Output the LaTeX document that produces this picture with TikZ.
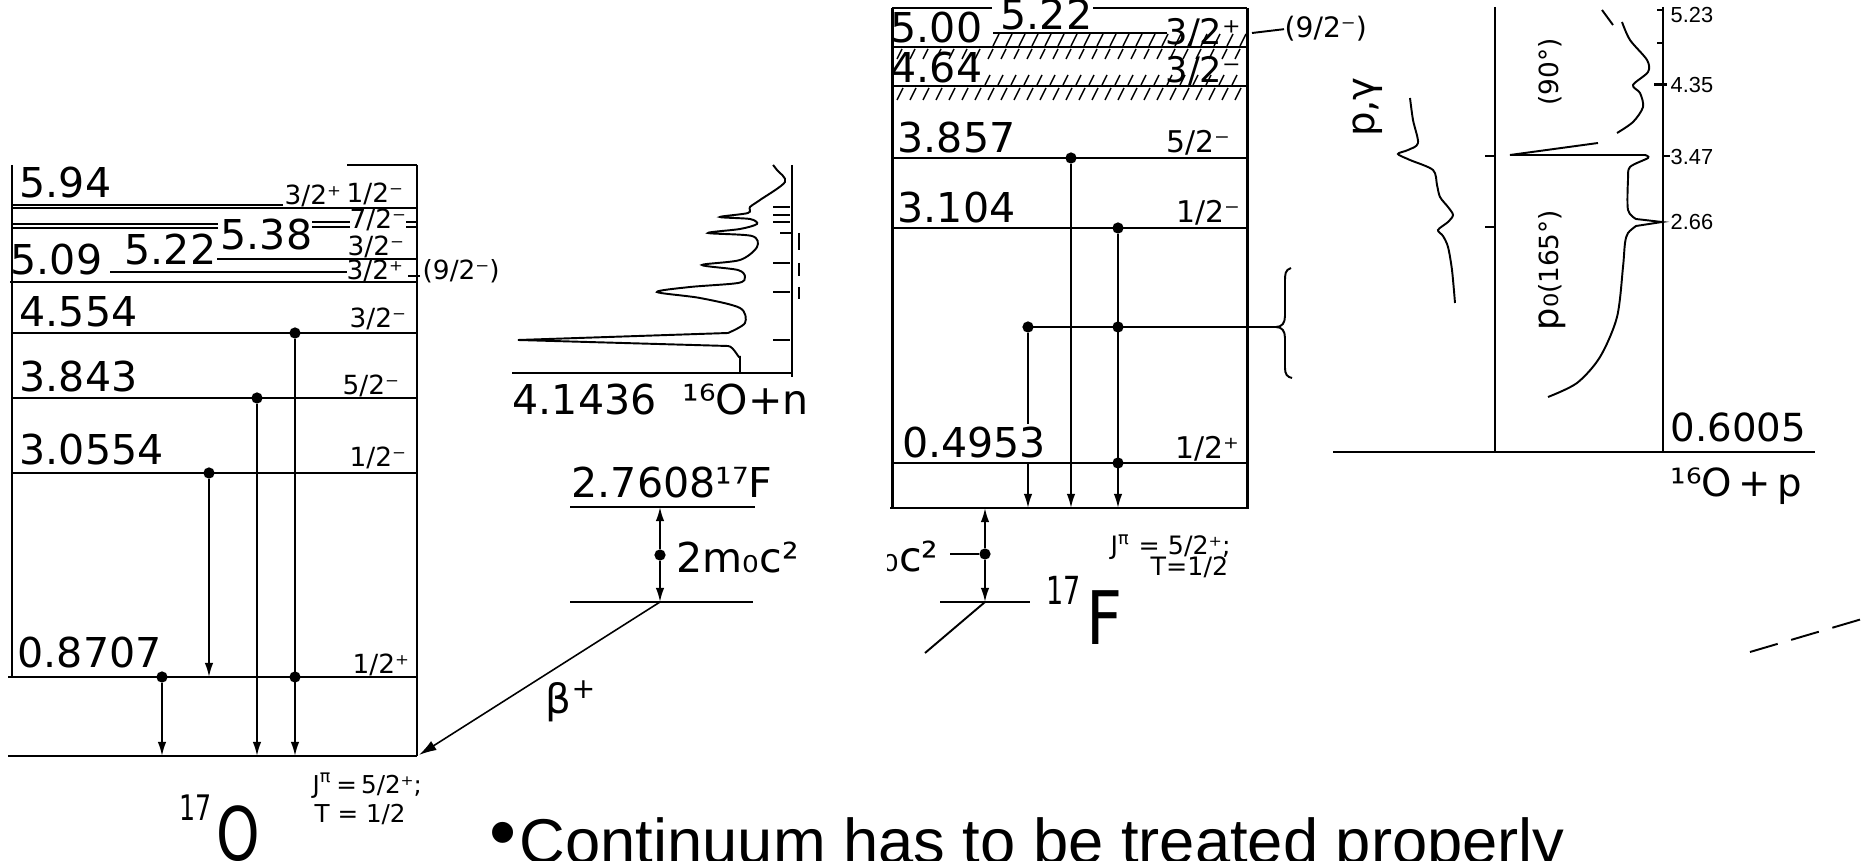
\documentclass[tikz,border=0pt]{standalone}
\usepackage{fontspec}
\setmainfont{DejaVu Sans}
\newfontfamily\arialfont{Liberation Sans}
\usetikzlibrary{arrows.meta}

\begin{document}
\begin{tikzpicture}[x=0.01cm, y=-0.01cm,
  box/.style={line width=0.85pt},
  lvl/.style={line width=0.55pt},
  gam/.style={line width=0.5pt, -{Latex[length=4pt,width=2.4pt]}},
  hatch/.style={line width=0.4pt},
  dot/.style={circle, fill, inner sep=0pt, minimum size=3.2pt},
  elab/.style={anchor=base west, inner sep=0pt, font=\fontsize{11.7}{12}\selectfont},
  slab/.style={anchor=base west, inner sep=0pt, font=\fontsize{7.5}{8}\selectfont},
  mlab/.style={anchor=base west, inner sep=0pt, font=\fontsize{8.5}{9}\selectfont},
  blab/.style={anchor=base west, inner sep=0pt, font=\fontsize{10}{11}\selectfont},
  tlab/.style={anchor=west, inner sep=0pt, font=\arialfont\fontsize{6.2}{7}\selectfont},
  rlab/.style={rotate=90, inner sep=0pt},
]
\useasboundingbox (0,0) rectangle (1866,861);

% 17O level scheme (left box): frame and levels.
\draw[box] (12,165) -- (12,677);
\draw[box] (417,165) -- (417,756);
\draw[lvl] (347,165) -- (417,165);
\draw[lvl] (12,205) -- (283,205);
\draw[lvl] (12,208) -- (417,208);
\draw[lvl] (12,224) -- (218,224) (12,228) -- (218,228);
\draw[lvl] (312,222) -- (417,222) (312,227) -- (417,227);
\draw[lvl] (217,259) -- (417,259);
\draw[lvl] (110,272) -- (347,272);
\draw[box] (10,282) -- (417,282);
\draw[box] (408,276) -- (420,276);
\draw[lvl] (12,333) -- (417,333);
\draw[lvl] (12,398) -- (417,398);
\draw[lvl] (12,473) -- (417,473);
\draw[lvl] (8,677) -- (417,677);
\draw[box] (8,756) -- (417,756);

\node[elab] (o594) at (19,198) {5.94};
\node[elab] (o509) at (10,275) {5.09};
\node[elab] (o522) at (124,265) {5.22};
\node[elab] (o538) at (220,250) {5.38};
\node[elab] (o4554) at (19,327) {4.554};
\node[elab] (o3843) at (19,392) {3.843};
\node[elab] (o30554) at (19,465) {3.0554};
\node[elab] (o08707) at (17,668) {0.8707};

\node[slab] (oj594a) at (284,205) {3/2⁺};
\node[slab] (oj594b) at (346,203) {1/2⁻};
\node[slab, fill=white] (oj538) at (349,229) {7/2⁻};
\node[slab] (oj522) at (347,256) {3/2⁻};
\node[slab] (oj509) at (346,280) {3/2⁺};
\node[slab] (oj92) at (422,280) {(9/2⁻)};
\node[slab] (oj4554) at (349,328) {3/2⁻};
\node[slab] (oj3843) at (342,395) {5/2⁻};
\node[slab] (oj30554) at (349,467) {1/2⁻};
\node[slab] (oj08707) at (352,673) {1/2⁺};

% 17O gamma transitions.
\node[dot] (od4554) at (295,333) {};
\node[dot] (od3843) at (257,398) {};
\node[dot] (od30554) at (209,473) {};
\node[dot] (od08707) at (162,677) {};
\node[dot] (od08707b) at (295,677) {};
\coordinate (og4554) at (295,756);
\coordinate (og3843) at (257,756);
\coordinate (og30554) at (209,677);
\coordinate (og08707) at (162,756);
\draw[gam] (od4554) -- (og4554);
\draw[gam] (od3843) -- (og3843);
\draw[gam] (od30554) -- (og30554);
\draw[gam] (od08707) -- (og08707);

\node[slab, font=\fontsize{7}{8}\selectfont] (ojgs) at (312,793) {J\textsuperscript{π}\,=\,5/2⁺;};
\node[slab, font=\fontsize{7}{8}\selectfont] (otgs) at (314,822) {T = 1/2};
\node[anchor=base west, inner sep=0pt, font=\fontsize{10}{11}\selectfont] (oa) at (179,820) {\scalebox{0.72}[1]{17}};
\node[anchor=base west, inner sep=0pt, font=\fontsize{21}{22}\selectfont] (oname) at (216,860) {\scalebox{0.75}[1]{O}};

% 16O+n threshold with the neutron spectrum.
\draw[lvl] (512,373) -- (792,373);
\draw[lvl] (792,165) -- (792,377);
\foreach \ty in {207,215,222,263,292,340} \draw[lvl] (773,\ty) -- (790,\ty);
\draw[lvl] (780,233) -- (792,233);
\foreach \ty/\tl in {233/17,263/13,287/12} \draw[lvl] (799,\ty) -- ++(0,\tl);
\draw[lvl] (740,373) -- (740,356) to[out=-90,in=0] (728,346) -- (518,340) -- (728,333)
  -- plot[smooth, tension=0.5] coordinates {(728,333) (745,323) (740,308) (700,298) (657,292)
  (690,287) (738,283) (745,277) (738,270) (702,265) (740,260) (757,247) (752,236) (708,233)
  (740,229) (757,224) (750,219) (720,217) (748,213) (750,207) (760,200) (785,182) (777,170)
  (773,165)};
\node[elab] (n41436) at (512,415) {4.1436};
\node[elab] (nthr) at (682,415) {¹⁶O+n};

% 17F ground state above 17O, pair energy and beta+ decay.
\draw[lvl] (570,507) -- (755,507);
\draw[lvl] (570,602) -- (753,602);
\node[elab] (f27608) at (571,498) {2.7608¹⁷F};
\node[dot] (pdot) at (660,555) {};
\coordinate (ptop) at (660,507);
\coordinate (pbot) at (660,602);
\draw[gam] (pdot) -- (ptop);
\draw[gam] (pdot) -- (pbot);
\node[elab] (pair) at (676,573) {2m₀c²};
\coordinate (ogs) at (419,755);
\draw[line width=0.45pt, -{Latex[length=5pt,width=3pt]}] (pbot) -- (ogs);
\node[anchor=base west, inner sep=0pt, font=\fontsize{11.5}{12}\selectfont] (bplus) at (545,714) {β\textsuperscript{+}};

% 17F level scheme (middle box).
\draw[box] (892,8) -- (892,508);
\draw[box] (1247,8) -- (1247,508);
\draw[box] (890,508) -- (1249,508);
\draw[lvl] (892,8) -- (992,8) (1093,8) -- (1247,8);
\draw[lvl] (993,33) -- (1167,33);
\draw[lvl] (892,47) -- (1247,47);
\draw[lvl] (892,86) -- (1247,86);
\foreach \hx in {993,1006,...,1240} \draw[hatch] (\hx,46) -- ++(6,-12);
\foreach \hx in {897,910,...,1240} \draw[hatch] (\hx,59) -- ++(5,-10);
\foreach \hx in {985,998,...,1240} \draw[hatch] (\hx,85) -- ++(5,-10);
\foreach \hx in {897,910,...,1240} \draw[hatch] (\hx,100) -- ++(6,-12);
\draw[lvl] (892,158) -- (1247,158);
\draw[lvl] (892,228) -- (1247,228);
\draw[lvl] (1028,327) -- (1277,327);
\draw[lvl] (892,463) -- (1247,463);
\draw[lvl] (1291,268) .. controls (1285,270) and (1285,274) .. (1285,282) -- (1285,316)
  .. controls (1285,323) and (1282,327) .. (1276,327)
  .. controls (1282,327) and (1285,331) .. (1285,338) -- (1285,368)
  .. controls (1285,374) and (1287,377) .. (1292,378);

% 17F gamma transitions.
\node[dot] (fd3857) at (1071,158) {};
\node[dot] (fd3104) at (1118,228) {};
\node[dot] (fdx) at (1028,327) {};
\node[dot] (fdxb) at (1118,327) {};
\node[dot] (fd04953) at (1118,463) {};
\coordinate (fg3857) at (1071,508);
\coordinate (fg3104) at (1118,508);
\coordinate (fgx) at (1028,508);
\draw[gam] (fd3857) -- (fg3857);
\draw[gam] (fd3104) -- (fg3104);
\draw[gam] (fdx) -- (fgx);

\node[elab] (f500) at (890,43) {5.00};
\node[elab] (f522) at (1000,30) {5.22};
\node[elab] (f464) at (890,83) {4.64};
\node[elab] (f3857) at (897,153) {3.857};
\node[elab] (f3104) at (897,223) {3.104};
\node[elab, fill=white, inner sep=1pt] (f04953) at (898,458) {0.4953};
\node[blab] (fj500) at (1165,45) {3/2⁺};
\node[blab] (fj464) at (1165,83) {3/2⁻};
\node[mlab] (fj3857) at (1166,153) {5/2⁻};
\node[mlab] (fj3104) at (1176,223) {1/2⁻};
\node[mlab] (fj04953) at (1175,459) {1/2⁺};
\node[mlab, font=\fontsize{8}{9}\selectfont] (fj92) at (1284,38) {(9/2⁻)};
\draw[lvl] (1252,33) -- (fj92.west);

% Below the 17F box: pair energy, 17F ground state.
\coordinate (fgs) at (985,508);
\node[dot] (fpdot) at (985,554) {};
\coordinate (fpbot) at (985,602);
\coordinate (fptick) at (950,554);
\draw[gam] (fpdot) -- (fgs);
\draw[gam] (fpdot) -- (fpbot);
\draw[lvl] (fptick) -- (fpdot);
\draw[lvl] (940,602) -- (1030,602);
\coordinate (fbeta) at (925,653);
\draw[lvl] (fpbot) -- (fbeta);
\begin{scope}
  \clip (887,520) rectangle (948,600);
  \node[elab, anchor=base east] (fpair) at (939,571) {2m₀c²};
\end{scope}
\node[slab, font=\fontsize{7.2}{8}\selectfont] (fjgs) at (1110,555) {J\textsuperscript{π} = 5/2⁺;};
\node[slab, font=\fontsize{7.2}{8}\selectfont] (ftgs) at (1150,576) {T=1/2};
\node[anchor=base west, inner sep=0pt, font=\fontsize{11}{12}\selectfont] (fa) at (1046,605) {\scalebox{0.7}[1]{17}};
\node[anchor=base west, inner sep=0pt, font=\fontsize{21}{22}\selectfont] (fname) at (1086,645) {\scalebox{0.85}[1]{F}};

% 16O+p excitation functions (right).
\draw[lvl] (1495,7) -- (1495,452);
\draw[lvl] (1663,7) -- (1663,452);
\draw[box] (1333,452) -- (1815,452);
\draw[lvl] (1657,10) -- (1663,10);
\draw[lvl] (1657,43) -- (1663,43);
\draw[box] (1654,85) -- (1667,85);
\draw[lvl] (1663,156) -- (1670,156);
\draw[lvl] (1485,156) -- (1495,156);
\draw[lvl] (1485,227) -- (1495,227);
\node[tlab] (e523) at (1670,15) {5.23};
\node[tlab] (e435) at (1670,85) {4.35};
\node[tlab] (e347) at (1670,157) {3.47};
\node[tlab] (e266) at (1670,222) {2.66};
\node[anchor=base west, inner sep=0pt, font=\fontsize{11}{12}\selectfont] (p06005) at (1670,442) {0.6005};
\node[anchor=base west, inner sep=0pt, font=\fontsize{11}{12}\selectfont] (pthr) at (1670,497) {¹⁶O\,+\,p};
\node[rlab, font=\fontsize{11}{12}\selectfont] (pglab) at (1368,107) {p,γ};
\node[rlab, font=\fontsize{7.5}{8}\selectfont] (p90) at (1550,72) {(90°)};
\node[rlab] (p165) at (1552,270) {{\fontsize{10}{11}\selectfont p₀}{\fontsize{7.5}{8}\selectfont(165°)}};

\draw[lvl] plot[smooth, tension=0.5] coordinates {(1410,98) (1413,120) (1418,143) (1408,150)
  (1398,154) (1410,160) (1433,170) (1437,185) (1440,197) (1448,207) (1453,215) (1448,222)
  (1438,230) (1443,236) (1448,247) (1452,270) (1455,303)};
\draw[lvl] (1602,10) -- (1613,25);
\draw[lvl] plot[smooth, tension=0.5] coordinates {(1622,22) (1630,40) (1647,60) (1648,72)
  (1633,85) (1640,93) (1643,107) (1633,122) (1617,133)};
\draw[lvl] (1598,143) -- (1510,155) -- (1645,155)
  -- plot[smooth, tension=0.5] coordinates {(1645,155) (1648,158) (1630,167) (1628,180)
  (1628,210) (1636,219)} -- (1662,222) -- (1636,226)
  -- plot[smooth, tension=0.5] coordinates {(1636,226) (1628,233) (1625,243) (1623,267)
  (1617,317) (1600,357) (1577,383) (1548,397)};

\coordinate (dsa) at (1750,652);
\coordinate (dsb) at (1862,619);
\draw[lvl, dash pattern=on 8.2pt off 4pt] (dsa) -- (dsb);

% Bullet line.
\node[inner sep=0pt, font=\arialfont\fontsize{22}{24}\selectfont] (bul) at (503,840) {•};
\node[anchor=base west, inner sep=0pt, font=\arialfont\fontsize{18}{20}\selectfont] (cont) at (519,863) {Continuum has to be treated properly};

\end{tikzpicture}
\end{document}
